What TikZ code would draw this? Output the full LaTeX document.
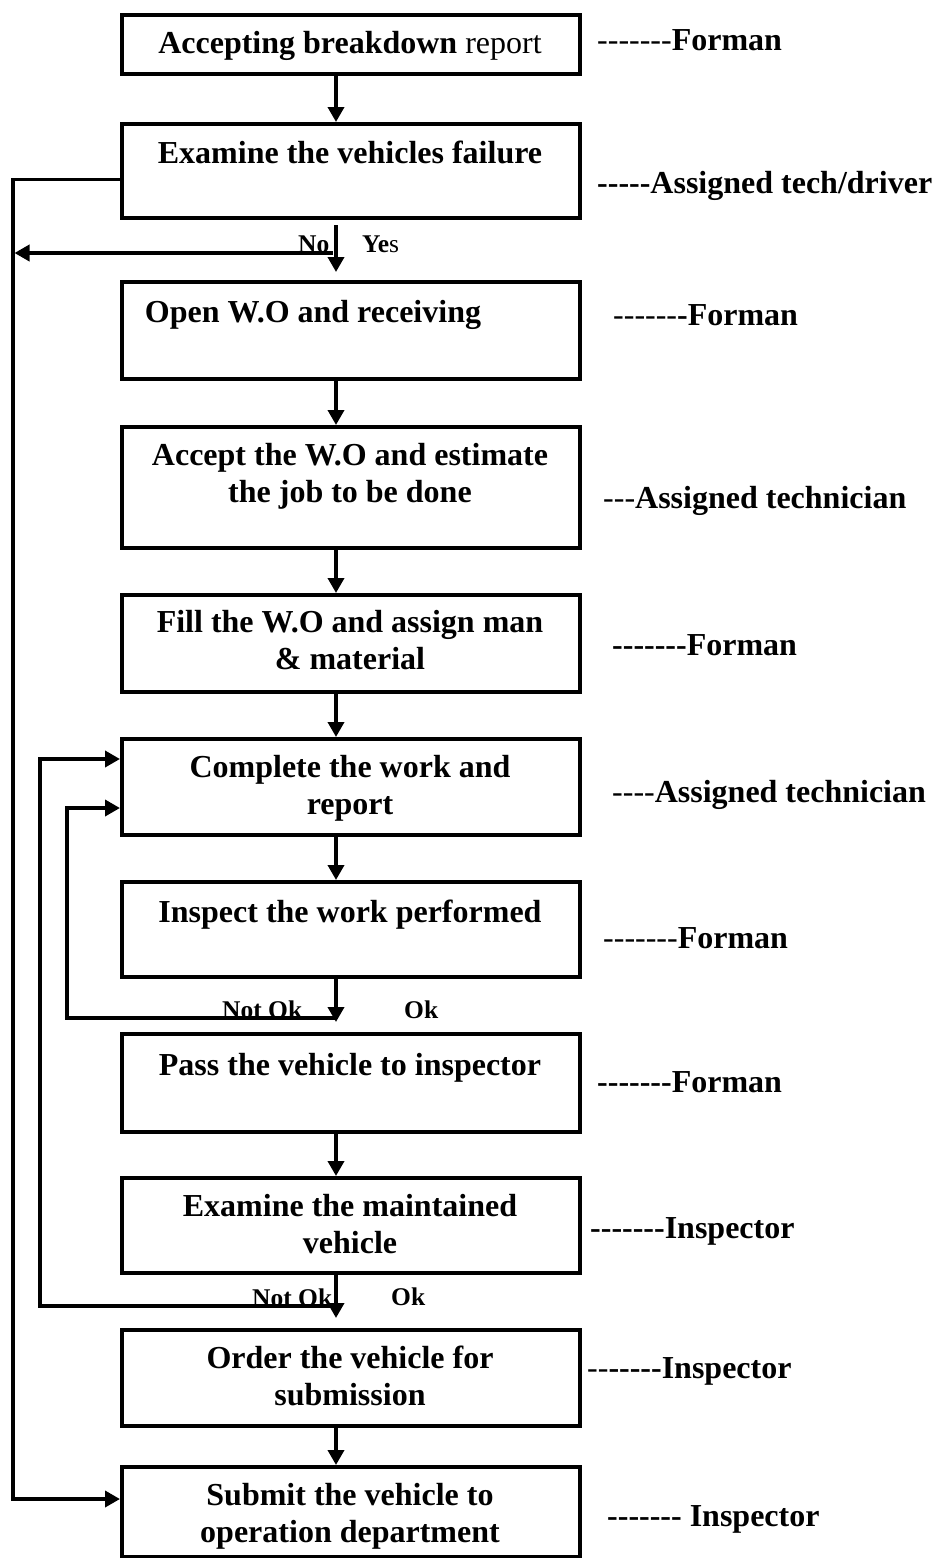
\documentclass[tikz,border=0pt]{standalone}
\usepackage{fontspec}
\setmainfont{Liberation Serif}[Ligatures=TeXOff]
\usetikzlibrary{arrows.meta}
\newcommand{\twolines}[2]{\begin{tabular}[t]{@{}c@{}}#1\\#2\end{tabular}}
\begin{document}
\begin{tikzpicture}[x=1pt,y=-1pt,
  box/.style={draw, line width=4.4pt, minimum width=458pt, anchor=north west, inner sep=0pt},
  txt/.style={font=\fontsize{32}{37}\selectfont\bfseries, align=center, inner sep=0pt, anchor=base},
  role/.style={font=\fontsize{32}{37}\selectfont, anchor=base west, inner sep=0pt},
  tag/.style={font=\fontsize{25.5}{30}\selectfont\bfseries, anchor=base west, inner sep=0pt},
  arr/.style={line width=3.6pt, line join=miter, -{Triangle[length=15pt,width=16pt]}}]
\useasboundingbox (0,0) rectangle (935,1558);
\renewcommand{\arraystretch}{1}

% process boxes
\node[box, minimum height=59pt] (b1) at (120,12.7) {};
\node[box, minimum height=94pt] (b2) at (120,122) {};
\node[box, minimum height=97pt] (b3) at (120,280) {};
\node[box, minimum height=121pt] (b4) at (120,425) {};
\node[box, minimum height=97pt] (b5) at (120,593) {};
\node[box, minimum height=96pt] (b6) at (120,737) {};
\node[box, minimum height=95pt] (b7) at (120,880) {};
\node[box, minimum height=98pt] (b8) at (120,1032) {};
\node[box, minimum height=95pt] (b9) at (120,1176) {};
\node[box, minimum height=96pt] (b10) at (120,1328) {};
\node[box, minimum height=90pt] (b11) at (120,1465) {};

% box texts
\node[txt] (t1) at (350,53) {Accepting breakdown {\mdseries report}};
\node[txt] (t2) at (350,163) {Examine the vehicles failure};
\node[txt] (t3) at (313,322) {Open W.O and receiving};
\node[txt] (t4) at (350,465) {\twolines{Accept the W.O and estimate}{the job to be done}};
\node[txt] (t5) at (350,632) {\twolines{Fill the W.O and assign man}{\& material}};
\node[txt] (t6) at (350,777) {\twolines{Complete the work and}{report}};
\node[txt] (t7) at (350,922) {Inspect the work performed};
\node[txt] (t8) at (350,1075) {Pass the vehicle to inspector};
\node[txt] (t9) at (350,1216) {\twolines{Examine the maintained}{vehicle}};
\node[txt] (t10) at (350,1368) {\twolines{Order the vehicle for}{submission}};
\node[txt] (t11) at (350,1505) {\twolines{Submit the vehicle to}{operation department}};

% responsible roles
\node[role] (r1) at (597,50) {-------\textbf{Forman}};
\node[role] (r2) at (597,193) {\textbf{-----Assigned tech/driver}};
\node[role] (r3) at (613,325) {------\textbf{-Forman}};
\node[role] (r4) at (603,508) {---\textbf{Assigned technician}};
\node[role] (r5) at (612,655) {\textbf{-------Forman}};
\node[role] (r6) at (612,802) {----\textbf{Assigned technician}};
\node[role] (r7) at (603,948) {-------\textbf{Forman}};
\node[role] (r8) at (597,1092) {\textbf{-------Forman}};
\node[role] (r9) at (590,1238) {\textbf{-------Inspector}};
\node[role] (r10) at (587,1378) {--\textbf{-----Inspector}};
\node[role] (r11) at (607,1526) {\textbf{------- Inspector}};

% decision labels
\node[tag] (no) at (298,252) {No};
\node[tag] (yes) at (362,252) {Ye{\mdseries s}};
\node[tag] (nok1) at (222,1018) {Not Ok};
\node[tag] (ok1) at (404,1018) {Ok};
\node[tag] (nok2) at (252,1306) {Not Ok};
\node[tag] (ok2) at (391,1305) {Ok};

% routing points
\coordinate (ax) at (336,0);
\coordinate (k2) at (13,179.5);
\coordinate (k11) at (13,1499);
\coordinate (d1a) at (336,225);
\coordinate (d1b) at (336,272);
\coordinate (d1j) at (333,253);
\coordinate (d1e) at (14.5,253);
\coordinate (s7) at (336,1022);
\coordinate (n1) at (336,1018);
\coordinate (m1) at (67,1018);
\coordinate (k6b) at (67,808);
\coordinate (s9) at (336,1318);
\coordinate (n2) at (336,1306);
\coordinate (m2) at (40,1306);
\coordinate (k6a) at (40,759);

% main flow
\draw[arr] (b1.south -| ax) -- (b2.north -| ax);
\draw[arr] (d1a) -- (d1b);
\draw[arr] (d1j) -- (d1e);
\draw[arr] (b3.south -| ax) -- (b4.north -| ax);
\draw[arr] (b4.south -| ax) -- (b5.north -| ax);
\draw[arr] (b5.south -| ax) -- (b6.north -| ax);
\draw[arr] (b6.south -| ax) -- (b7.north -| ax);
\draw[arr] (b7.south -| ax) -- (s7);
\draw[arr] (b8.south -| ax) -- (b9.north -| ax);
\draw[arr] (b9.south -| ax) -- (s9);
\draw[arr] (b10.south -| ax) -- (b11.north -| ax);

% return loops
\draw[arr] (b2.west |- k2) -- (k2) -- (k11) -- (b11.west |- k11);
\draw[arr] (n1) -- (m1) -- (k6b) -- (b6.west |- k6b);
\draw[arr] (n2) -- (m2) -- (k6a) -- (b6.west |- k6a);
\end{tikzpicture}
\end{document}
